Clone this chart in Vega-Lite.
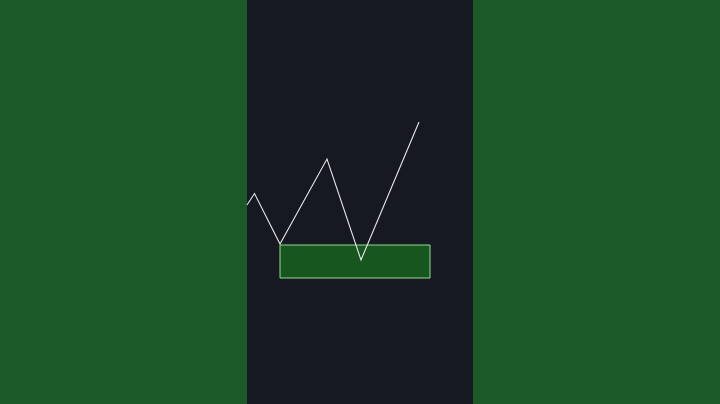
{
  "$schema": "https://vega.github.io/schema/vega-lite/v6.json",
  "width": 720,
  "height": 404,
  "padding": 0,
  "autosize": {"type": "none"},
  "background": "#1a5a28",
  "config": {"view": {"stroke": null}},
  "datasets": {
    "panel": [{"x0": 247, "x1": 473, "y0": 0, "y1": 404}],
    "zone": [{"x0": 280, "x1": 430, "y0": 245, "y1": 278}],
    "price": [
      {"t": 247, "p": 205},
      {"t": 254.5, "p": 193.5},
      {"t": 280, "p": 244},
      {"t": 327, "p": 159},
      {"t": 361, "p": 260},
      {"t": 419, "p": 122}
    ]
  },
  "layer": [
    {
      "data": {"name": "panel"},
      "mark": {"type": "rect", "color": "#161922"},
      "encoding": {
        "x": {"field": "x0", "type": "quantitative", "scale": {"domain": [0, 720], "nice": false, "zero": false}, "axis": null},
        "x2": {"field": "x1"},
        "y": {"field": "y0", "type": "quantitative", "scale": {"domain": [404, 0], "nice": false, "zero": false}, "axis": null},
        "y2": {"field": "y1"}
      }
    },
    {
      "data": {"name": "zone"},
      "mark": {"type": "rect", "fill": "#18561f", "stroke": "#8fdc8f", "strokeWidth": 1},
      "encoding": {
        "x": {"field": "x0", "type": "quantitative"},
        "x2": {"field": "x1"},
        "y": {"field": "y0", "type": "quantitative"},
        "y2": {"field": "y1"}
      }
    },
    {
      "data": {"name": "price"},
      "mark": {"type": "line", "color": "#e8e8e8", "strokeWidth": 1.1},
      "encoding": {
        "x": {"field": "t", "type": "quantitative"},
        "y": {"field": "p", "type": "quantitative"}
      }
    }
  ]
}
